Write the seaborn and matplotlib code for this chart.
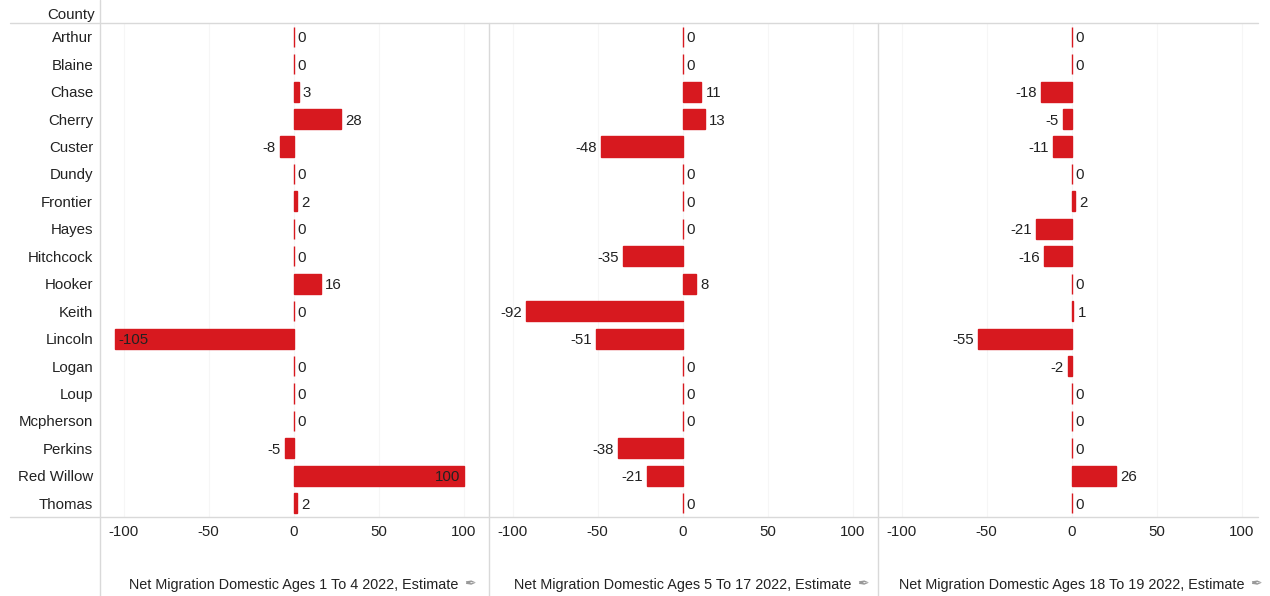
import matplotlib
matplotlib.use("Agg")
import matplotlib.pyplot as plt
from matplotlib.lines import Line2D
import seaborn as sns
import pandas as pd

counties = ["Arthur", "Blaine", "Chase", "Cherry", "Custer", "Dundy", "Frontier", "Hayes",
            "Hitchcock", "Hooker", "Keith", "Lincoln", "Logan", "Loup", "Mcpherson",
            "Perkins", "Red Willow", "Thomas"]
ages_1_4 = [0, 0, 3, 28, -8, 0, 2, 0, 0, 16, 0, -105, 0, 0, 0, -5, 100, 2]
ages_5_17 = [0, 0, 11, 13, -48, 0, 0, 0, -35, 8, -92, -51, 0, 0, 0, -38, -21, 0]
ages_18_19 = [0, 0, -18, -5, -11, 0, 2, -21, -16, 0, 1, -55, -2, 0, 0, 0, 26, 0]
titles = ["Net Migration Domestic Ages 1 To 4 2022, Estimate",
          "Net Migration Domestic Ages 5 To 17 2022, Estimate",
          "Net Migration Domestic Ages 18 To 19 2022, Estimate"]
ticks = [-100, -50, 0, 50, 100]

sns.set_theme(style="white")
plt.rcParams['font.family'] = ['Liberation Sans', 'DejaVu Sans']

W, H = 1270, 596
fig = plt.figure(figsize=(W / 100, H / 100), dpi=100)
BAR = "#D7191F"
TXT = "#222222"
LINE = "#d9d9d9"
FS = 10.8

df = pd.DataFrame({"County": counties, "a": ages_1_4, "b": ages_5_17, "c": ages_18_19})
cols = ["a", "b", "c"]
lefts = [100, 489, 878]
pw = 389
top, bot = 23, 517

for i, col in enumerate(cols):
    ax = fig.add_axes([lefts[i] / W, (H - bot) / H, pw / W, (bot - top) / H])
    sns.barplot(data=df, y="County", x=col, orient="h", color=BAR, saturation=1,
                width=0.73, ax=ax, edgecolor=BAR, linewidth=1, errorbar=None)
    ax.set_xlim(-114, 115)
    ax.set_ylim(len(counties) - 0.5, -0.5)
    ax.set_xticks(ticks)
    ax.set_xticklabels([str(t) for t in ticks])
    ax.grid(axis="x", color="#f6f6f6", linewidth=0.8)
    ax.set_axisbelow(True)
    for s in ax.spines.values():
        s.set_visible(False)
    ax.tick_params(axis="x", length=0, pad=6, labelsize=FS, labelcolor=TXT)
    if i == 0:
        ax.tick_params(axis="y", length=0, pad=5, labelsize=FS, labelcolor=TXT)
    else:
        ax.tick_params(axis="y", length=0, labelleft=False)
    ax.set_ylabel("")
    ax.set_xlabel("")
    vals = df[col].tolist()
    for j, v in enumerate(vals):
        if abs(v) > 95:
            off, ha = ((2, "left") if v < 0 else (-2, "right"))
        elif v < 0:
            off, ha = (-3, "right")
        else:
            off, ha = (3, "left")
        ax.annotate(str(v), (v, j), xytext=(off, 0), textcoords="offset points",
                    ha=ha, va="center_baseline", fontsize=FS, color=TXT)
    t = ax.text(0, -(583 - bot) / (bot - top), titles[i],
                transform=ax.get_xaxis_transform(), ha="center", va="center_baseline",
                fontsize=10.4, color=TXT)
    ax.annotate("\u2712", xy=(1, 0.5), xycoords=t, xytext=(4, 0),
                textcoords="offset points", ha="left", va="center",
                fontsize=10, color="#999999", family=["DejaVu Sans"])

fig.text(95 / W, 1 - 13 / H, "County", ha="right", va="center_baseline", fontsize=FS, color=TXT)

def fx(x):
    return x / W

def fy(y):
    return 1 - y / H

fig.add_artist(Line2D([fx(100), fx(100)], [fy(0), fy(596)], color=LINE, lw=1))
for x in [489, 878]:
    fig.add_artist(Line2D([fx(x), fx(x)], [fy(23), fy(596)], color=LINE, lw=1))
for y in [23, 517]:
    fig.add_artist(Line2D([fx(10), fx(1258)], [fy(y), fy(y)], color=LINE, lw=1))

fig.savefig("out.png", dpi=100)
